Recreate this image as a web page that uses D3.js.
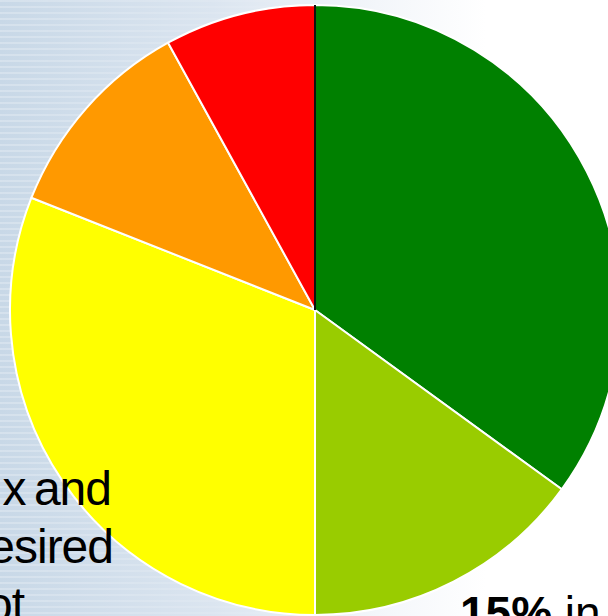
<!DOCTYPE html>
<html>
<head>
<meta charset="utf-8">
<script src="https://cdn.jsdelivr.net/npm/d3@7"></script>
<style>
  html, body { margin: 0; padding: 0; background: #fff; }
  svg { display: block; }
</style>
</head>
<body>
<svg id="chart" width="608" height="616"></svg>
<script>
// slices, clockwise from 12 o'clock
const categories = ['green', 'light green', 'yellow', 'orange', 'red'];
const values = [35, 15, 31, 11, 8];
const colors = ['#008000', '#99cc00', '#ffff00', '#ff9900', '#ff0000'];

// slide text cut off by the frame
const leftLines = ['x and', 'esired', 'ot'];
const bottomBold = '15%';
const bottomRest = ' in';

const width = 608;
const height = 616;
const cx = 315;
const cy = 310;
const radius = 305;

const svg = d3.select('#chart');

// slide background: pale blue fading to white towards the right
const defs = svg.append('defs');
const grad = defs.append('linearGradient')
  .attr('id', 'bg')
  .attr('x1', '0%').attr('y1', '0%')
  .attr('x2', '100%').attr('y2', '0%');
grad.append('stop').attr('offset', '0%').attr('stop-color', '#c8d8e7');
grad.append('stop').attr('offset', '35%').attr('stop-color', '#dbe5f0');
grad.append('stop').attr('offset', '62%').attr('stop-color', '#f3f6fa');
grad.append('stop').attr('offset', '80%').attr('stop-color', '#ffffff');

// faint horizontal streaks
const streaks = defs.append('pattern')
  .attr('id', 'streaks')
  .attr('width', 8).attr('height', 6)
  .attr('patternUnits', 'userSpaceOnUse');
streaks.append('rect').attr('width', 8).attr('height', 2)
  .attr('fill', '#ffffff').attr('opacity', 0.25);

const fade = defs.append('linearGradient')
  .attr('id', 'fade')
  .attr('x1', '0%').attr('x2', '100%');
fade.append('stop').attr('offset', '0%').attr('stop-color', '#fff').attr('stop-opacity', 1);
fade.append('stop').attr('offset', '60%').attr('stop-color', '#fff').attr('stop-opacity', 0);
const mask = defs.append('mask').attr('id', 'fadeMask');
mask.append('rect').attr('width', width).attr('height', height).attr('fill', 'url(#fade)');

svg.append('rect').attr('width', width).attr('height', height).attr('fill', 'url(#bg)');
svg.append('rect').attr('width', width).attr('height', height)
  .attr('fill', 'url(#streaks)').attr('mask', 'url(#fadeMask)');

const pie = d3.pie().sort(null).value((d) => d);
const arc = d3.arc().innerRadius(0).outerRadius(radius);
const arcs = pie(values);

const grp = svg.append('g')
  .attr('transform', 'translate(' + cx + ',' + cy + ')');

grp.selectAll('.slice')
  .data(arcs)
  .enter()
  .append('path')
  .attr('class', 'slice')
  .attr('d', arc)
  .attr('fill', (d, i) => colors[i])
  .attr('stroke', '#ffffff')
  .attr('stroke-width', 2)
  .attr('stroke-linejoin', 'round');

// dark border between the last and first slice
const p0 = d3.pointRadial(arcs[0].startAngle, radius);
grp.append('line')
  .attr('x1', 0).attr('y1', 0)
  .attr('x2', p0[0]).attr('y2', p0[1])
  .attr('stroke', '#111')
  .attr('stroke-width', 2);

// cropped slide text
const fontFamily = 'Arial, "Liberation Sans", sans-serif';
const leftEnds = [111, 113, 24];
const lineGap = 58;
svg.selectAll('.left-text')
  .data(leftLines)
  .enter()
  .append('text')
  .attr('class', 'left-text')
  .attr('x', (d, i) => leftEnds[i])
  .attr('y', (d, i) => 505 + i * lineGap)
  .attr('text-anchor', 'end')
  .attr('font-family', fontFamily)
  .attr('font-size', 48)
  .attr('letter-spacing', -1)
  .attr('word-spacing', -4)
  .attr('fill', '#000')
  .text((d) => d);

const bottom = svg.append('text')
  .attr('x', 460)
  .attr('y', 629)
  .attr('font-family', fontFamily)
  .attr('font-size', 46)
  .attr('fill', '#000')
  .attr('xml:space', 'preserve')
  .style('white-space', 'pre');
bottom.append('tspan').attr('font-weight', 'bold').text(bottomBold);
bottom.append('tspan').text(bottomRest);
</script>
</body>
</html>
